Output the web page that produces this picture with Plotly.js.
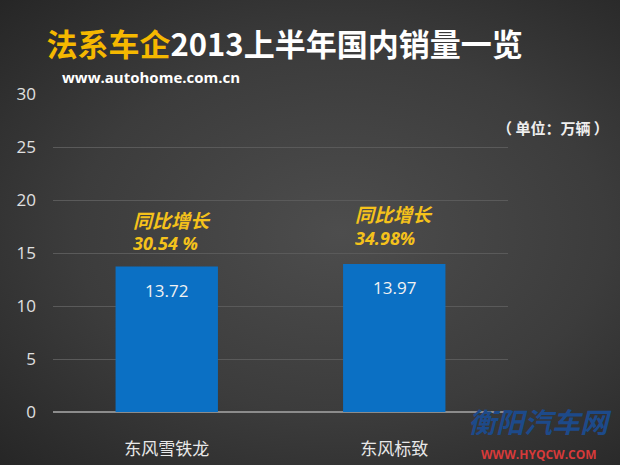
<!DOCTYPE html>
<html><head><meta charset="utf-8">
<script src="https://cdn.plot.ly/plotly-3.0.1.min.js"></script>
<style>
html,body{margin:0;padding:0;}
#chart{width:620px;height:465px;background:radial-gradient(ellipse at 55% 50%, #4d4d4d 0%, #3c3c3c 55%, #262626 100%);}
</style></head>
<body><div id="chart"></div>
<script>
const categories = ["东风雪铁龙", "东风标致"];
const sales = [13.72, 13.97];
const valueLabels = ["13.72", "13.97"];
const growthLabels = ["30.54 %", "34.98%"];
const growthTitle = "同比增长";
const yTicks = [0, 5, 10, 15, 20, 25, 30];

const cjk = '"Noto Sans CJK SC", "Noto Sans", sans-serif';
const num = '"Open Sans", "Noto Sans", sans-serif';

const trace = {
  type: 'bar', x: categories, y: sales,
  marker: {color: '#0b70c4'}, width: 0.45,
  hoverinfo: 'none'
};

const annotations = [];
const gx = [-36, -41];
const gyTitle = [48, 51];
const gyNum = [24, 26];
categories.forEach((c, i) => {
  annotations.push({x: c, y: sales[i], xref: 'x', yref: 'y', text: valueLabels[i], showarrow: false,
    yanchor: 'top', yshift: -10, font: {family: num, size: 17, color: '#f2f2f2'}});
  annotations.push({x: c, y: sales[i], xref: 'x', yref: 'y', text: '<b><i>' + growthTitle + '</i></b>', showarrow: false,
    xanchor: 'left', yanchor: 'middle', xshift: gx[i], yshift: gyTitle[i], height: 22,
    font: {family: cjk, size: 19, color: '#f5c21b'}});
  annotations.push({x: c, y: sales[i], xref: 'x', yref: 'y', text: '<b><i>' + growthLabels[i] + '</i></b>', showarrow: false,
    xanchor: 'left', yanchor: 'middle', xshift: gx[i], yshift: gyNum[i], height: 22,
    font: {family: num, size: 18, color: '#f5c21b'}});
});
annotations.push({xref: 'paper', yref: 'paper', x: 1.226, y: 1.0, yshift: -33, xanchor: 'right', yanchor: 'middle',
  text: '<b>（ 单位：万辆 ）</b>', showarrow: false, font: {family: cjk, size: 15, color: '#eeeeee'}});
annotations.push({xref: 'paper', yref: 'paper', x: 0.015, y: 1.0, xanchor: 'left', yanchor: 'middle', yshift: 17,
  text: '<b>www.autohome.com.cn</b>', showarrow: false, font: {family: num, size: 15, color: '#ffffff'}});
annotations.push({xref: 'paper', yref: 'paper', x: 1.232, y: 0, xanchor: 'right', yanchor: 'middle', yshift: -9, height: 28,
  text: '<b><i>衡阳汽车网</i></b>', showarrow: false, font: {family: cjk, size: 28, color: '#1d4a8a'}});
annotations.push({xref: 'paper', yref: 'paper', x: 1.2, y: 0, xanchor: 'right', yanchor: 'middle', yshift: -42, height: 13,
  text: '<b>WWW.HYQCW.COM</b>', showarrow: false, font: {family: num, size: 12, color: '#d63a3a'}});

const layout = {
  width: 620, height: 465,
  margin: {l: 53, r: 112, t: 94, b: 53},
  paper_bgcolor: 'rgba(0,0,0,0)', plot_bgcolor: 'rgba(0,0,0,0)',
  showlegend: false,
  title: {text: '<b><span style="color:#f5b800">法系车企</span>2013上半年国内销量一览</b>',
    x: 0.075, xanchor: 'left', y: 0.903, yanchor: 'middle',
    font: {family: cjk, size: 31, color: '#ffffff'}},
  xaxis: {type: 'category', showgrid: false, zeroline: false, showline: false, ticks: '',
    tickfont: {family: cjk, size: 17, color: '#e8e8e8'}, ticklabelstandoff: 25, fixedrange: true},
  yaxis: {range: [0, 30], tickvals: yTicks, ticktext: yTicks.map(String), showgrid: true, gridcolor: '#5a5a5a', gridwidth: 1,
    zeroline: true, zerolinecolor: '#8c8c8c', zerolinewidth: 2, showline: false, ticks: '',
    tickfont: {family: num, size: 17, color: '#e0e0e0'}, ticklabelstandoff: 16, fixedrange: true},
  annotations: annotations
};

Plotly.newPlot('chart', [trace], layout, {displayModeBar: false, staticPlot: true});
</script>
</body></html>
